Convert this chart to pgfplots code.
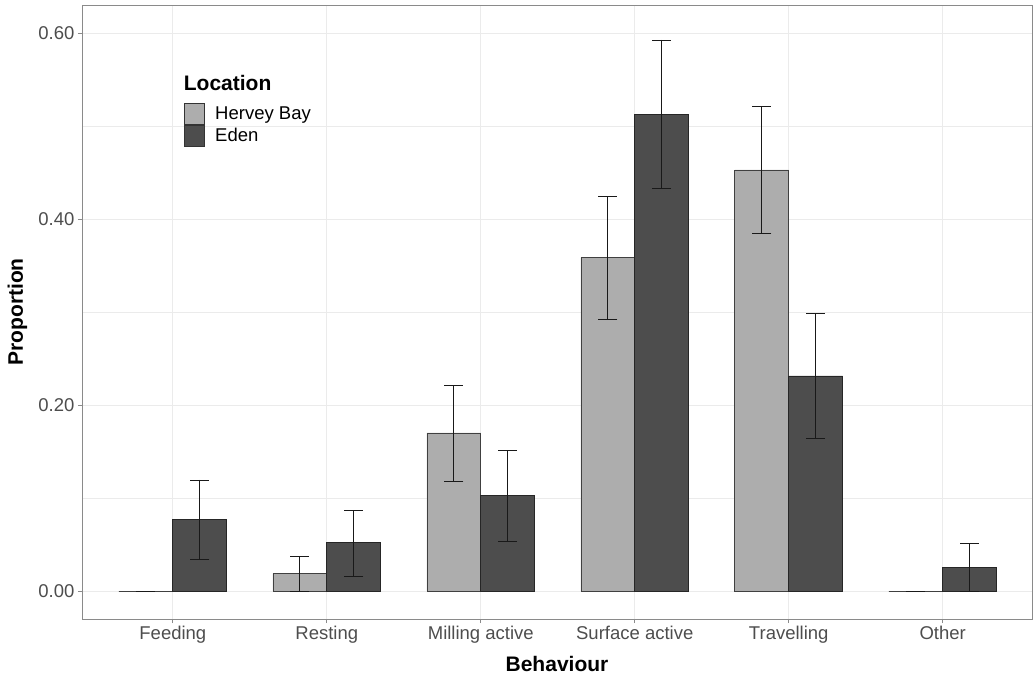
\documentclass[border=0pt]{standalone}
\usepackage{pgfplots}
\pgfplotsset{compat=1.18}
\usepackage{pgfplotstable}
\usepackage{fontspec}
\setmainfont{Liberation Sans}
\definecolor{hb}{HTML}{ADADAD}
\definecolor{ed}{HTML}{4D4D4D}
\definecolor{gridc}{HTML}{EBEBEB}
\definecolor{tickc}{HTML}{4D4D4D}
\definecolor{framec}{HTML}{8A8A8A}

\pgfplotstableread{
x y ep em
0 0.0000 0.0000 0.0000
1 0.0188 0.0187 0.0188
2 0.1700 0.0515 0.0520
3 0.3584 0.0660 0.0659
4 0.4527 0.0685 0.0685
5 0.0000 0.0000 0.0000
}\hbdata
\pgfplotstableread{
x y ep em
0 0.0771 0.0423 0.0430
1 0.0518 0.0346 0.0360
2 0.1025 0.0485 0.0487
3 0.5126 0.0799 0.0800
4 0.2312 0.0674 0.0667
5 0.0255 0.0258 0.0255
}\eddata

\begin{document}
\begin{tikzpicture}
\begin{axis}[
  scale only axis,
  width=950pt, height=614pt,
  xmin=-0.59, xmax=5.58,
  ymin=-0.0301, ymax=0.6301,
  ybar=0pt, bar width=0.35,
  xtick={0,1,2,3,4,5},
  xticklabels={Feeding,Resting,Milling active,Surface active,Travelling,Other},
  ytick={0,0.2,0.4,0.6},
  minor ytick={0.1,0.3,0.5},
  yticklabel={\pgfmathprintnumber[fixed,fixed zerofill,precision=2]{\tick}},
  /pgf/number format/assume math mode=true,
  grid=both,
  major grid style={gridc, line width=0.8pt},
  minor grid style={gridc, line width=0.8pt},
  axis line style={framec, line width=0.8pt},
  tick align=outside,
  xtick pos=bottom, ytick pos=left,
  major tick length=4pt,
  minor tick length=0pt,
  major tick style={framec, line width=0.8pt},
  tick label style={font=\fontsize{18.5}{21}\selectfont, text=tickc},
  xticklabel style={yshift=0pt},
  xlabel={\textbf{Behaviour}},
  ylabel={\textbf{Proportion}},
  label style={font=\fontsize{21}{24}\selectfont},
  xlabel style={at={(axis description cs:0.5,-0.0733)}, anchor=center},
  ylabel style={at={(axis description cs:-0.068,0.5)}, anchor=center},
  legend style={at={(rel axis cs:0.1035,0.8436)}, anchor=north west, draw=none,
    fill=none, font=\fontsize{18.5}{21}\selectfont, row sep=0pt,
    nodes={inner sep=0pt},
    /tikz/every odd column/.append style={column sep=11pt}},
  legend cell align=left,
  legend image code/.code={\draw[#1, draw=black!80, line width=0.7pt] (0pt,-10.5pt) rectangle (20pt,10.5pt);},
  error bars/error bar style={black!90, line width=0.9pt},
  error bars/error mark options={black!90, line width=0.9pt, mark size=9.5pt, rotate=90},
]
\addplot[fill=hb, draw=black!75, line width=0.7pt,
  error bars/.cd, y dir=both, y explicit]
  table[x=x, y=y, y error plus=ep, y error minus=em]{\hbdata};
\addlegendentry{Hervey Bay}
\addplot[fill=ed, draw=black!85, line width=0.7pt,
  error bars/.cd, y dir=both, y explicit]
  table[x=x, y=y, y error plus=ep, y error minus=em]{\eddata};
\addlegendentry{Eden}
\node[anchor=base west, font=\fontsize{21}{24}\selectfont\bfseries, inner sep=0pt]
  at (rel axis cs:0.107,0.86) {Location};
\end{axis}
\useasboundingbox ([xshift=-82pt,yshift=-61pt]current axis.south west) rectangle ([xshift=2pt,yshift=5pt]current axis.north east);
\end{tikzpicture}
\end{document}
